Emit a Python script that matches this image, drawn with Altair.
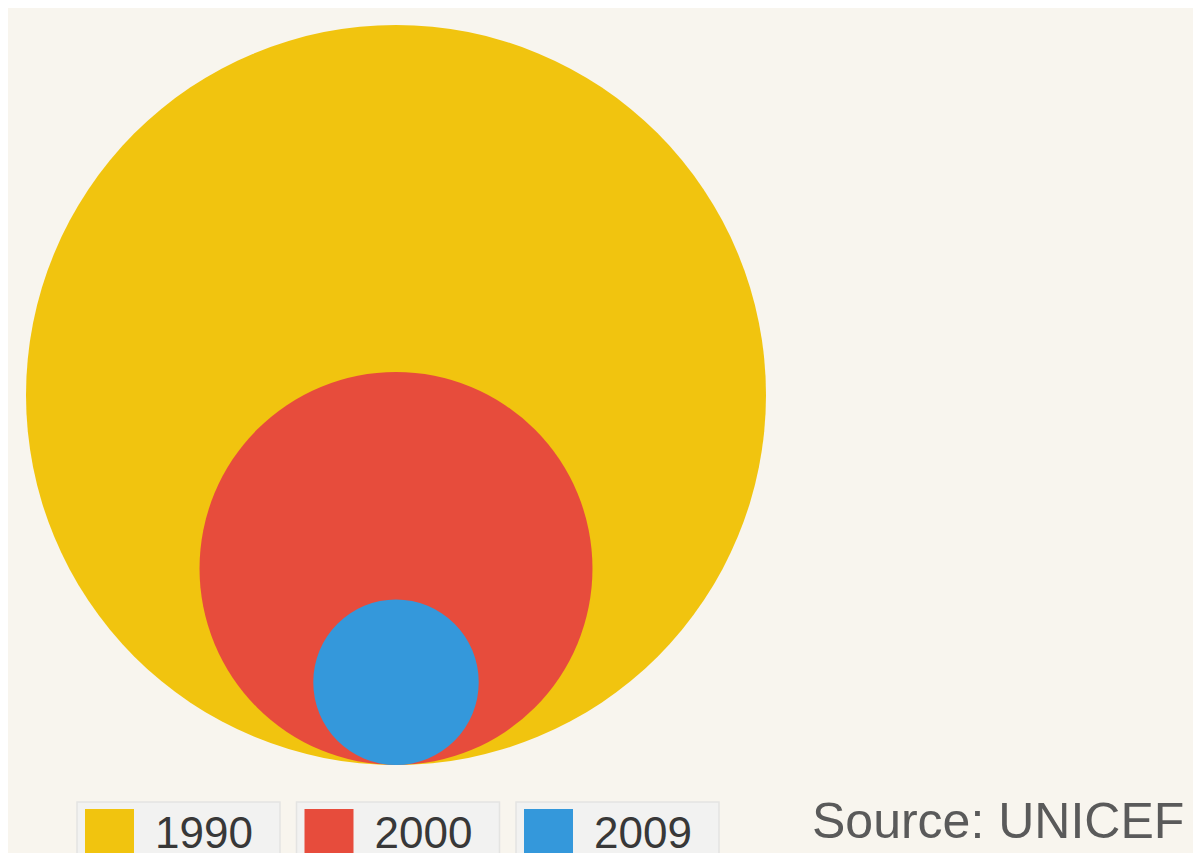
import altair as alt
import pandas as pd

# ---- data ----
years = ["1990", "2000", "2009"]
values = [100.0, 28.2, 5.0]          # relative magnitude (circle area)
colors = ["#f1c40f", "#e74c3c", "#3498db"]
source_text = ["Source: UNICEF"]

# ---- layout constants ----
W, H = 1185, 845
CX = 388          # centre x of circles
BASE = 757        # common bottom of circles
R_MAX = 370       # radius of biggest circle
LX0, LSTEP, LBW = 69, 219.5, 203
LTOP = 794

vmax = max(values)
df = pd.DataFrame({"year": years, "value": values, "idx": list(range(len(years)))})
src = pd.DataFrame({"label": source_text})

xs = alt.Scale(domain=[0, W], nice=False, zero=False)
ys = alt.Scale(domain=[0, H], nice=False, zero=False, reverse=True)
cscale = alt.Scale(domain=years, range=colors)

base = alt.Chart(df)

circles = base.transform_calculate(
    r=f"sqrt(datum.value / {vmax}) * {R_MAX}",
    cy=f"{BASE} - datum.r",
    cx=f"{CX}",
).mark_point(filled=True, shape="circle", opacity=1, strokeWidth=0).encode(
    x=alt.X("cx:Q", scale=xs, axis=None),
    y=alt.Y("cy:Q", scale=ys, axis=None),
    size=alt.Size("value:Q", scale=alt.Scale(domain=[0, vmax], range=[0, (2 * R_MAX) ** 2]), legend=None),
    color=alt.Color("year:N", scale=cscale, legend=None),
    order=alt.Order("value:Q", sort="descending"),
)

leg = base.transform_calculate(
    bx=f"{LX0} + datum.idx * {LSTEP}",
    bx2=f"datum.bx + {LBW}",
    sx=f"datum.bx + 8",
    sx2=f"datum.bx + 57",
    tx=f"datum.bx + 78",
)

boxes = leg.mark_rect(fill="#f2f2f1", stroke="#e4e4e2", strokeWidth=1.5).encode(
    x=alt.X("bx:Q", scale=xs, axis=None),
    x2="bx2:Q",
    y=alt.value(LTOP),
    y2=alt.value(880),
)

squares = leg.mark_rect().encode(
    x=alt.X("sx:Q", scale=xs, axis=None),
    x2="sx2:Q",
    y=alt.value(LTOP + 7),
    y2=alt.value(880),
    color=alt.Color("year:N", scale=cscale, legend=None),
)

labels = leg.mark_text(
    align="left", baseline="alphabetic", fontSize=44, font="Liberation Sans", color="#383838"
).encode(
    x=alt.X("tx:Q", scale=xs, axis=None),
    y=alt.value(840),
    text="year:N",
)

source = alt.Chart(src).mark_text(
    align="left", baseline="alphabetic", fontSize=50, font="Liberation Sans", color="#5a5a5a"
).encode(
    x=alt.value(804),
    y=alt.value(830),
    text="label:N",
)

chart = alt.layer(circles, boxes, squares, labels, source).properties(
    width=W, height=H, background="#f8f5ee", padding=0, autosize="none"
).configure_view(stroke=None)

chart.save("out.html", embed_options={"renderer": "svg", "actions": False})
